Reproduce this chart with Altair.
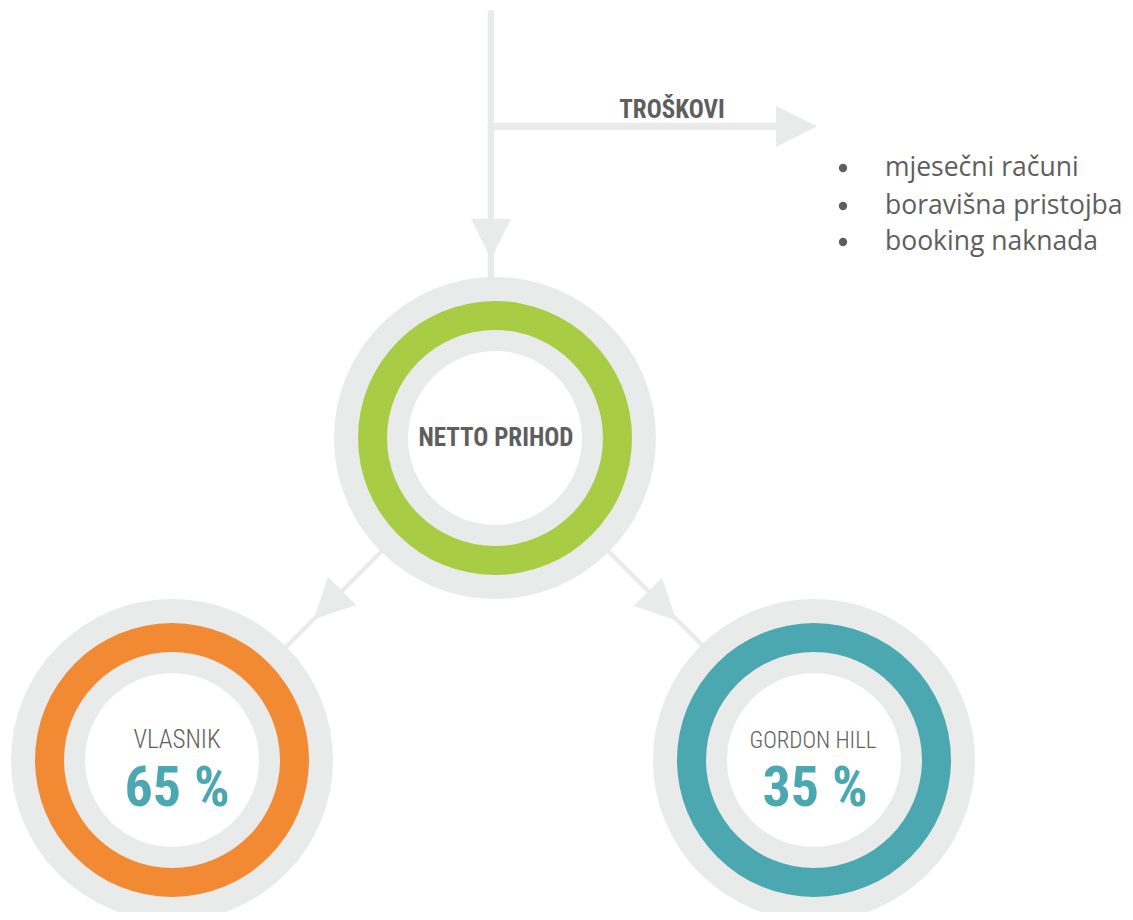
import altair as alt
import pandas as pd

# ---------------- data ----------------
node_names = ["NETTO PRIHOD", "VLASNIK", "GORDON HILL"]
node_shares = ["", "65 %", "35 %"]
node_colors = ["#a8cd44", "#f18a33", "#4ba8b1"]
cost_title = "TROŠKOVI"
cost_items = ["mjesečni računi", "boravišna pristojba", "booking naknada"]

# ---------------- layout (pixel coordinates of the picture) ----------------
node_x = [495, 172, 814]
node_y = [438, 760, 760]
R_OUTER, R_RING, R_INNER, R_WHITE = 161, 137, 108, 87
GRAY = "#e9eaea"
TEXT = "#5e5e5e"
TEAL = "#4ba8b1"

X = alt.X("x:Q", scale=alt.Scale(domain=[8, 1125]), axis=None)
Y = alt.Y("y:Q", scale=alt.Scale(domain=[8, 912], reverse=True), axis=None)

# connectors
lines = pd.DataFrame({
    "x": [491, 491, 383, 607],
    "y": [13, 126.5, 550, 550],
    "x2": [491, 785, 285, 705],
    "y2": [280, 126.5, 648, 648],
    "w": [6.5, 7, 4, 4],
})
line_layer = alt.Chart(lines).mark_rule(color=GRAY, strokeCap="round").encode(
    x=X, y=Y, x2="x2:Q", y2="y2:Q", strokeWidth=alt.StrokeWidth("w:Q", scale=None)
)

heads = pd.DataFrame({
    "x": [491, 796.5, 328, 662],
    "y": [239, 126.5, 605, 606],
    "angle": [90, 0, 135, 45],
    "s": [40, 41, 40, 40],
})
heads["size"] = heads["s"] ** 2
head_layer = alt.Chart(heads).mark_point(
    shape="M-1,-1L1,0L-1,1Z", filled=True, opacity=1, color=GRAY, strokeWidth=0
).encode(
    x=X, y=Y, angle=alt.Angle("angle:Q", scale=None), size=alt.Size("size:Q", scale=None)
)

# rings as stacked discs (vega circle size = diameter^2)
def discs(radius, colors):
    df = pd.DataFrame({"x": node_x, "y": node_y, "c": colors})
    df["size"] = (2 * radius) ** 2
    return alt.Chart(df).mark_circle(opacity=1, strokeWidth=0).encode(
        x=X, y=Y, size=alt.Size("size:Q", scale=None), color=alt.Color("c:N", scale=None)
    )

disc_layers = [
    discs(R_OUTER, [GRAY] * 3),
    discs(R_RING, node_colors),
    discs(R_INNER, [GRAY] * 3),
    discs(R_WHITE, ["#ffffff"] * 3),
]

FONT_C = "Noto Sans ExtraCondensed, Roboto Condensed, DejaVu Sans Condensed, sans-serif"

center_label = alt.Chart(pd.DataFrame({"x": [node_x[0] + 1], "y": [node_y[0] + 8], "t": [node_names[0]]})).mark_text(
    font=FONT_C, fontSize=25, fontWeight="bold", color=TEXT, align="center", baseline="alphabetic"
).encode(x=X, y=Y, text="t:N")

sub_label = alt.Chart(pd.DataFrame({"x": [177, 813], "y": [v - 12 for v in node_y[1:]], "s": [25, 23], "t": node_names[1:]})).mark_text(
    font=FONT_C, fontWeight=300, color=TEXT, align="center", baseline="alphabetic"
).encode(x=X, y=Y, text="t:N", size=alt.Size("s:Q", scale=None))

share_label = alt.Chart(pd.DataFrame({"x": [177, 815], "y": [v + 46 for v in node_y[1:]], "t": node_shares[1:]})).mark_text(
    font=FONT_C, fontSize=56, fontWeight="bold", color=TEAL, align="center", baseline="alphabetic"
).encode(x=X, y=Y, text="t:N")

title_label = alt.Chart(pd.DataFrame({"x": [672], "y": [118], "t": [cost_title]})).mark_text(
    font=FONT_C, fontSize=25, fontWeight="bold", color=TEXT, align="center", baseline="alphabetic"
).encode(x=X, y=Y, text="t:N")

base_y = [176, 214, 250]
items = pd.DataFrame({"x": [885] * 3, "y": base_y, "t": cost_items})
item_text = alt.Chart(items).mark_text(
    font="Open Sans", fontSize=26.5, color=TEXT, align="left", baseline="alphabetic"
).encode(x=X, y=Y, text="t:N")

bullets = pd.DataFrame({"x": [843] * 3, "y": [v - 8 for v in base_y]})
bullet_layer = alt.Chart(bullets).mark_circle(opacity=1, color=TEXT, size=70).encode(x=X, y=Y)

chart = alt.layer(
    line_layer, head_layer, *disc_layers,
    center_label, sub_label, share_label, title_label, item_text, bullet_layer
).properties(
    width=1117, height=904, padding=0, autosize=alt.AutoSizeParams(type="none"), background="white"
).configure_view(stroke=None)

chart.save("out.html", embed_options={"renderer": "svg", "actions": False})
